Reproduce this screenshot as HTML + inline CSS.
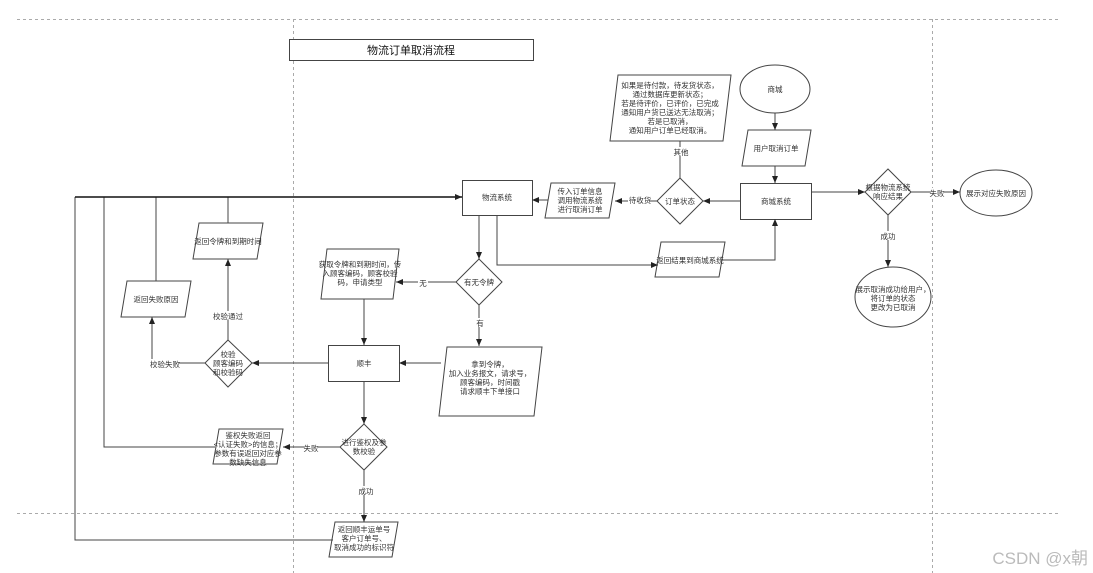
<!DOCTYPE html>
<html><head><meta charset="utf-8"><style>
html,body{margin:0;padding:0;background:#fff;}
svg{display:block;font-family:"Liberation Sans","Noto Sans CJK SC",sans-serif;}
</style></head><body>
<svg width="1093" height="573" viewBox="0 0 1093 573" xmlns="http://www.w3.org/2000/svg">
<defs>
<marker id="a" markerWidth="8" markerHeight="8" refX="7" refY="4" orient="auto" markerUnits="userSpaceOnUse">
<path d="M0,1 L7,4 L0,7 Z" fill="#222"/></marker>
</defs>
<rect width="1093" height="573" fill="#fff"/>
<g stroke="#aaa" stroke-width="1" stroke-dasharray="3,3" fill="none">
<line x1="17" y1="19.5" x2="1060" y2="19.5"/>
<line x1="17" y1="513.5" x2="1060" y2="513.5"/>
<line x1="293.5" y1="19" x2="293.5" y2="573"/>
<line x1="932.5" y1="19" x2="932.5" y2="573"/>
</g>
<g font-size="7.5" fill="#333" text-anchor="middle">
<!-- title -->
<rect x="289.5" y="39.5" width="244" height="21" fill="#fff" stroke="#444"/>
<text x="411" y="54" font-size="11" fill="#111">物流订单取消流程</text>

<g stroke="#444" stroke-width="1" fill="#fff">
<ellipse cx="775" cy="89" rx="35" ry="24"/>
<polygon points="748,130 811,130 805,166 742,166"/>
<rect x="740.5" y="183.5" width="71" height="36"/>
<polygon points="680,178 703,201 680,224 657,201"/>
<polygon points="618,75 731,75 723,141 610,141"/>
<polygon points="888,169 911,192 888,215 865,192"/>
<ellipse cx="996" cy="193" rx="36" ry="23"/>
<ellipse cx="893" cy="297" rx="38" ry="30"/>
<polygon points="661,242 725,242 719,277 655,277"/>
<polygon points="551,183 615,183 609,218 545,218"/>
<rect x="462.5" y="180.5" width="70" height="35"/>
<polygon points="479,259 502,282 479,305 456,282"/>
<polygon points="327,249 399,249 393,299 321,299"/>
<polygon points="447,347 542,347 534,416 439,416"/>
<rect x="328.5" y="345.5" width="71" height="36"/>
<polygon points="228,340 252,363 228,387 205,363"/>
<polygon points="199,223 263,223 257,259 193,259"/>
<polygon points="127,281 191,281 185,317 121,317"/>
<polygon points="219,429 283,429 277,464 213,464"/>
<polygon points="364,424 387,447 364,470 340,447"/>
<polygon points="335,522 398,522 392,557 329,557"/>
</g>

<g stroke="#444" stroke-width="1" fill="none">
<path d="M775,113 V130" marker-end="url(#a)"/>
<path d="M775,166 V183" marker-end="url(#a)"/>
<path d="M740,201 H703" marker-end="url(#a)"/>
<path d="M680,178 V141"/>
<path d="M657,201 H615" marker-end="url(#a)"/>
<path d="M548,200 H532" marker-end="url(#a)"/>
<path d="M811,192 H865" marker-end="url(#a)"/>
<path d="M911,192 H960" marker-end="url(#a)"/>
<path d="M888,215 V267" marker-end="url(#a)"/>
<path d="M497,215 V265 H658" marker-end="url(#a)"/>
<path d="M721,260 H775 V219" marker-end="url(#a)"/>
<path d="M479,215 V259" marker-end="url(#a)"/>
<path d="M456,282 H396" marker-end="url(#a)"/>
<path d="M479,305 V346" marker-end="url(#a)"/>
<path d="M364,299 V345" marker-end="url(#a)"/>
<path d="M441,363 H399" marker-end="url(#a)"/>
<path d="M328,363 H252" marker-end="url(#a)"/>
<path d="M228,340 V259" marker-end="url(#a)"/>
<path d="M205,363 H152 V317" marker-end="url(#a)"/>
<path d="M228,223 V197"/>
<path d="M156,281 V197"/>
<path d="M364,381 V424" marker-end="url(#a)"/>
<path d="M340,447 H283" marker-end="url(#a)"/>
<path d="M364,470 V522" marker-end="url(#a)"/>
<path d="M215,447 H104 V197"/>
<path d="M333,540 H75 V197"/>
<path d="M75,197 H462" stroke="#111" stroke-width="1.5" marker-end="url(#a)"/>
</g>

<!-- labels on lines -->
<g>
<rect x="674" y="147" width="14" height="9" fill="#fff"/><text x="681" y="155">其他</text>
<rect x="628" y="195" width="22" height="9" fill="#fff"/><text x="640" y="203">待收货</text>
<rect x="930" y="188" width="14" height="9" fill="#fff"/><text x="937" y="196">失败</text>
<rect x="881" y="231" width="14" height="9" fill="#fff"/><text x="888" y="239">成功</text>
<rect x="418" y="278" width="10" height="9" fill="#fff"/><text x="423" y="286">无</text>
<rect x="475" y="318" width="10" height="9" fill="#fff"/><text x="480" y="326">有</text>
<rect x="214" y="311" width="28" height="9" fill="#fff"/><text x="228" y="319">校验通过</text>
<rect x="151" y="359" width="28" height="9" fill="#fff"/><text x="165" y="367">校验失败</text>
<rect x="304" y="443" width="14" height="9" fill="#fff"/><text x="311" y="451">失败</text>
<rect x="359" y="486" width="14" height="9" fill="#fff"/><text x="366" y="494">成功</text>
</g>

<!-- node text -->
<text x="775" y="92">商城</text>
<text x="776" y="151">用户取消订单</text>
<text x="776" y="204">商城系统</text>
<text x="680" y="204">订单状态</text>
<text x="670" y="88">如果是待付款，待发货状态，</text>
<text x="670" y="97">通过数据库更新状态；</text>
<text x="670" y="106">若是待评价，已评价，已完成</text>
<text x="670" y="115">通知用户货已送达无法取消；</text>
<text x="670" y="124">若是已取消，</text>
<text x="670" y="133">通知用户订单已经取消。</text>
<text x="888" y="190">根据物流系统</text>
<text x="888" y="199">响应结果</text>
<text x="996" y="196">展示对应失败原因</text>
<text x="893" y="292">展示取消成功给用户，</text>
<text x="893" y="301">将订单的状态</text>
<text x="893" y="310">更改为已取消</text>
<text x="690" y="263">返回结果到商城系统</text>
<text x="580" y="194">传入订单信息</text>
<text x="580" y="203">调用物流系统</text>
<text x="580" y="212">进行取消订单</text>
<text x="497" y="200">物流系统</text>
<text x="479" y="285">有无令牌</text>
<text x="360" y="267">获取令牌和到期时间，传</text>
<text x="360" y="276">入顾客编码，顾客校验</text>
<text x="360" y="285">码，申请类型</text>
<text x="490" y="367">拿到令牌，</text>
<text x="490" y="376">加入业务报文，请求号，</text>
<text x="490" y="385">顾客编码，时间戳</text>
<text x="490" y="394">请求顺丰下单接口</text>
<text x="364" y="366">顺丰</text>
<text x="228" y="357">校验</text>
<text x="228" y="366">顾客编码</text>
<text x="228" y="375">和校验码</text>
<text x="228" y="244">返回令牌和到期时间</text>
<text x="156" y="302">返回失败原因</text>
<text x="248" y="438">鉴权失败返回</text>
<text x="248" y="447">&lt;认证失败&gt;的信息；</text>
<text x="248" y="456">参数有误返回对应参</text>
<text x="248" y="465">数缺失信息</text>
<text x="364" y="445">进行鉴权及参</text>
<text x="364" y="454">数校验</text>
<text x="364" y="532">返回顺丰运单号</text>
<text x="364" y="541">客户订单号、</text>
<text x="364" y="550">取消成功的标识符</text>
</g>
<text x="1088" y="564" text-anchor="end" font-size="17" fill="#bbb">CSDN @x朝</text>
</svg>
</body></html>
